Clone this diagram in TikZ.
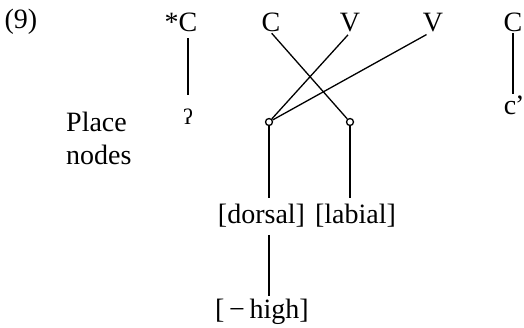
\documentclass[tikz,border=0pt]{standalone}
\usepackage{fontspec}
\setmainfont{Liberation Serif}
\begin{document}
\begin{tikzpicture}[x=1pt,y=-1pt,
  lbl/.style={font=\fontsize{28}{33}\selectfont, inner sep=0pt, anchor=base},
  small/.style={font=\fontsize{22}{26}\selectfont, inner sep=0pt, anchor=base},
  pnode/.style={circle, draw, line width=1.3pt, minimum size=7pt, inner sep=0pt, fill=white},
  assoc/.style={line width=1.3pt}]
\useasboundingbox (0,0) rectangle (524,328);
% example number
\node[lbl] (num) at (21,28.5) {(9)};
% skeleton
\node[lbl] (C0) at (188,32) {\llap{*}C};
\node[lbl] (C1) at (271,32) {C};
\node[lbl] (V1) at (350,32) {V};
\node[lbl] (V2) at (433,32) {V};
\node[lbl] (C2) at (513,32) {C};
% place nodes row
\node[small] (glot) at (188,125) {ʔ};
\node[lbl] (cej) at (510,115) {c\rlap{\kern-1pt'}};
\node[lbl, anchor=base west] (place) at (66,132) {Place};
\node[lbl, anchor=base west] (nodes) at (66,165) {nodes};
\node[pnode] (dor) at (269,122) {};
\node[pnode] (lab) at (350,122) {};
% features
\node[lbl] (dorsal) at (261.5,224) {[dorsal]};
\node[lbl] (labial) at (355.5,224) {[labial]};
\node[lbl] (high) at (262,318) {[\,−\,high]};
% association lines
\draw[assoc, shorten <=6pt, shorten >=14pt] (C0.south) -- (glot.north);
\draw[assoc, shorten <=1pt, shorten >=2pt] (C2.south) -- (C2.south |- cej.north);
\draw[assoc, shorten <=1pt] (C1.south) -- (lab);
\draw[assoc, shorten <=3pt] (V1.south) -- (dor);
\draw[assoc, shorten <=4pt] ([xshift=-3pt]V2.south) -- (dor);
\draw[assoc, shorten >=6pt] (dor) -- (dor |- dorsal.north);
\draw[assoc, shorten >=6pt] (lab) -- (lab |- labial.north);
\draw[assoc, shorten <=7pt, shorten >=2pt] (dor |- dorsal.south) -- (dor |- high.north);
\end{tikzpicture}
\end{document}
